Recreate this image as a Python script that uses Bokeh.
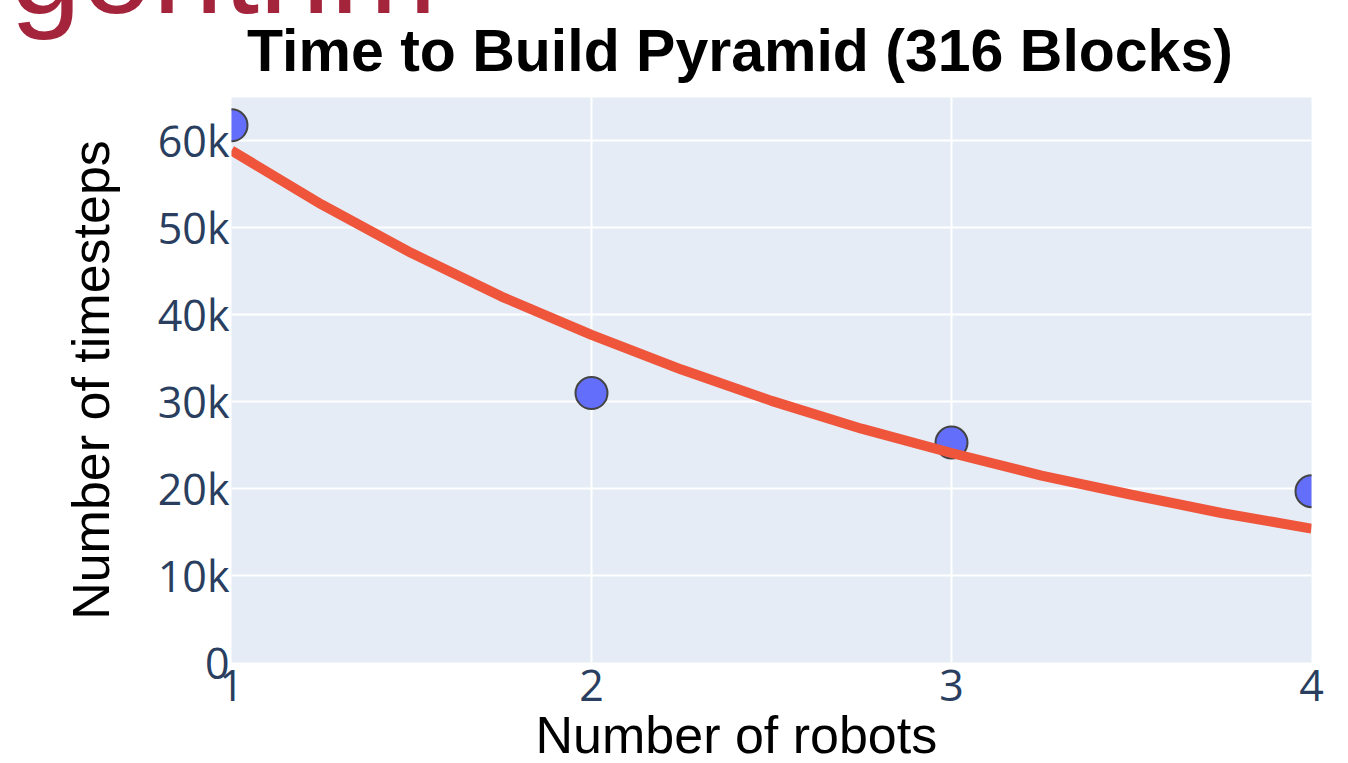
from bokeh.plotting import figure
from bokeh.models import Range1d, FixedTicker, Title, Div
from bokeh.layouts import column
from bokeh.embed import file_html
from bokeh.resources import INLINE

# ---- data ----
robots = [1, 2, 3, 4]
timesteps = [61800, 31000, 25300, 19700]

fit_x = [1.0, 1.25, 1.5, 1.75, 2.0, 2.25, 2.5, 2.75, 3.0, 3.25, 3.5, 3.75, 4.0]
fit_y = [58900, 52700, 47100, 42100, 37700, 33700, 30100, 26900, 24100, 21500, 19300, 17200, 15400]

x_ticks = [1, 2, 3, 4]
x_tick_labels = ["1", "2", "3", "4"]
y_ticks = [0, 10000, 20000, 30000, 40000, 50000, 60000]
y_tick_labels = ["0", "10k", "20k", "30k", "40k", "50k", "60k"]

title_text = "Time to Build Pyramid (316 Blocks)"
x_title = "Number of robots"
y_title = "Number of timesteps"
header_text = "gorithm"

W = 1348
TOP_H = 97

# ---- header strip: slide heading remnant + chart title ----
header_html = (
    f'<svg xmlns="http://www.w3.org/2000/svg" width="{W}" height="{TOP_H}" style="display:block">'
    f'<text x="10" y="13" font-family="Lato" font-size="128px" fill="#A3243B">{header_text}</text>'
    f'<text x="740" y="71" text-anchor="middle" font-family="Liberation Sans" font-weight="bold" '
    f'font-size="59px" fill="black">{title_text}</text>'
    '</svg>'
)
top = Div(text=header_html, width=W, height=TOP_H, margin=0, styles={"overflow": "hidden"})

# ---- main chart ----
p = figure(frame_width=1080, frame_height=565, output_backend="svg", toolbar_location=None,
           x_range=Range1d(1, 4), y_range=Range1d(0, 65000),
           min_border_left=231, min_border_right=37, min_border_top=0, min_border_bottom=0)
p.background_fill_color = "#E5ECF6"
p.border_fill_color = "white"
p.outline_line_color = None

p.xgrid.ticker = FixedTicker(ticks=x_ticks)
p.ygrid.ticker = FixedTicker(ticks=y_ticks)
for g in (p.xgrid, p.ygrid):
    g.grid_line_color = "white"
    g.grid_line_width = 2

p.xaxis.ticker = FixedTicker(ticks=x_ticks)
p.yaxis.ticker = FixedTicker(ticks=y_ticks)
p.xaxis.major_label_overrides = {t: l for t, l in zip(x_ticks, x_tick_labels)}
p.yaxis.major_label_overrides = {t: l for t, l in zip(y_ticks, y_tick_labels)}
for ax in (p.xaxis, p.yaxis):
    ax.axis_line_color = None
    ax.major_tick_line_color = None
    ax.minor_tick_line_color = None
    ax.major_tick_out = 0
    ax.major_tick_in = 0
    ax.minor_tick_out = 0
    ax.major_label_text_font = "Open Sans"
    ax.major_label_text_font_size = "43px"
    ax.major_label_text_color = "#2a3f5f"
p.yaxis.major_label_standoff = 2
p.xaxis.major_label_standoff = 7

p.yaxis.axis_label = y_title
p.yaxis.axis_label_text_font = "Liberation Sans"
p.yaxis.axis_label_text_font_size = "52px"
p.yaxis.axis_label_text_font_style = "normal"
p.yaxis.axis_label_text_color = "black"
p.yaxis.axis_label_standoff = 35

p.add_layout(Title(text=x_title, align="left", offset=304, standoff=0,
                   text_font="Liberation Sans", text_font_size="52px",
                   text_font_style="normal", text_color="black", text_line_height=0.8), "below")

p.scatter(robots, timesteps, size=32, fill_color="#636EFA", line_color="#444444", line_width=2)
p.line(fit_x, fit_y, line_width=10, line_color="#EF553B")

layout = column(top, p, spacing=0)
open("out.html", "w").write(file_html(layout, INLINE))
